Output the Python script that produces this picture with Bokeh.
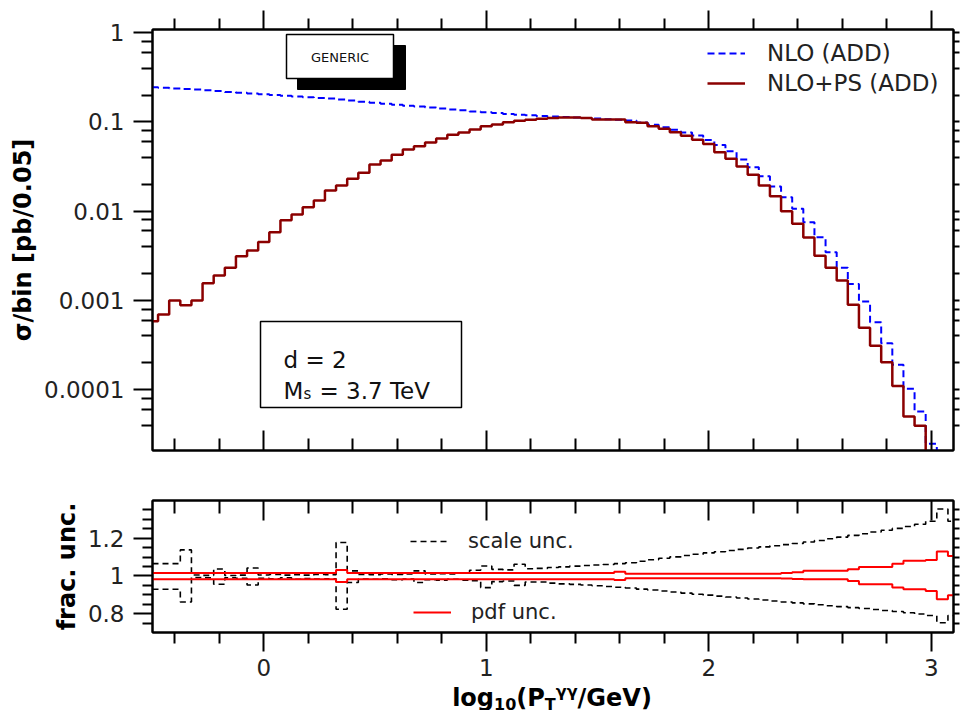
import math
from bokeh.plotting import figure
from bokeh.models import (Range1d, LinearAxis, LogAxis, FixedTicker, Legend, LegendItem,
                          BoxAnnotation, Label, ColumnDataSource, Div)
from bokeh.layouts import column
from bokeh.embed import file_html
from bokeh.resources import INLINE

FONT = "DejaVu Sans"

# ---------------- data (bin centres of log10(pT) histogram, width 0.05) ----------------
bin_center = [round(-0.5 + 0.05 * i, 2) for i in range(73)]

nlo_add = [
    0.2455, 0.2417, 0.238, 0.234, 0.231, 0.2266, 0.222, 0.2175, 0.213, 0.209,
    0.205, 0.201, 0.197, 0.1936, 0.1897, 0.1862, 0.1829, 0.1783, 0.1738, 0.169,
    0.1645, 0.1603, 0.1563, 0.1524, 0.1489, 0.1455, 0.1416, 0.1384, 0.1353, 0.1315,
    0.1285, 0.1262, 0.123, 0.1205, 0.1189, 0.1167, 0.115, 0.1135, 0.112, 0.1106,
    0.1092, 0.1075, 0.106, 0.104, 0.0987, 0.093, 0.0875, 0.0818, 0.0763, 0.0706,
    0.0629, 0.0552, 0.0471, 0.038, 0.0311, 0.0247, 0.0189, 0.01435, 0.01064, 0.00753,
    0.00511, 0.00347, 0.00232, 0.00153, 0.00097, 0.00057, 0.000331, 0.00019, 0.000102, 0.0000568,
    0.0000247, 1e-6, 1e-6,
]

nlops_add = [
    5.85e-4, 6.95e-4, 1.0e-3, 8.8e-4, 1.0e-3, 1.56e-3, 1.9e-3, 2.32e-3, 3.13e-3, 3.62e-3,
    4.5e-3, 5.8e-3, 7.9e-3, 9.2e-3, 0.0111, 0.0132, 0.0171, 0.0194, 0.0231, 0.0269,
    0.0334, 0.037, 0.0428, 0.0492, 0.0535, 0.0589, 0.0653, 0.0718, 0.0762, 0.0824,
    0.0897, 0.0937, 0.0995, 0.103, 0.106, 0.109, 0.111, 0.112, 0.112, 0.111,
    0.107, 0.107, 0.107, 0.0995, 0.098, 0.0897, 0.0839, 0.0769, 0.070, 0.0631,
    0.0566, 0.0457, 0.0387, 0.0317, 0.0256, 0.0194, 0.0147, 0.0100, 0.00722, 0.00507,
    0.00316, 0.00232, 0.00167, 0.000893, 0.000493, 0.00031, 0.000203, 0.00011, 0.0000499, 0.0000393,
    1e-6, 1e-6, 1e-6,
]

scale_hi = [
    1.065, 1.065, 1.065, 1.138, 1.005, 1.003, 1.037, 1.002, 1.004, 1.042,
    1.005, 1.008, 1.004, 1.006, 1.004, 1.008, 1.006, 1.177, 1.027, 1.008,
    1.006, 1.010, 1.008, 1.010, 1.027, 1.010, 1.012, 1.010, 1.015, 1.030,
    1.053, 1.035, 1.032, 1.062, 1.038, 1.040, 1.045, 1.048, 1.052, 1.055,
    1.058, 1.061, 1.065, 1.070, 1.078, 1.086, 1.094, 1.101, 1.108, 1.115,
    1.122, 1.128, 1.135, 1.141, 1.148, 1.154, 1.160, 1.166, 1.172, 1.180,
    1.188, 1.197, 1.206, 1.215, 1.224, 1.233, 1.242, 1.252, 1.262, 1.274,
    1.290, 1.355, 1.290,
]

scale_lo = [
    0.929, 0.929, 0.929, 0.862, 0.992, 0.990, 0.956, 0.990, 0.988, 0.952,
    0.988, 0.985, 0.990, 0.982, 0.986, 0.983, 0.985, 0.823, 0.965, 0.983,
    0.982, 0.985, 0.980, 0.983, 0.965, 0.980, 0.978, 0.982, 0.978, 0.975,
    0.938, 0.970, 0.973, 0.950, 0.968, 0.968, 0.962, 0.958, 0.955, 0.952,
    0.948, 0.944, 0.940, 0.936, 0.930, 0.925, 0.920, 0.915, 0.909, 0.903,
    0.898, 0.893, 0.888, 0.883, 0.878, 0.872, 0.867, 0.862, 0.857, 0.852,
    0.847, 0.842, 0.837, 0.832, 0.827, 0.822, 0.817, 0.811, 0.805, 0.798,
    0.790, 0.752, 0.790,
]

pdf_hi = [
    1.016, 1.016, 1.016, 1.016, 1.016, 1.016, 1.016, 1.016, 1.016, 1.016,
    1.016, 1.016, 1.016, 1.016, 1.016, 1.016, 1.016, 1.032, 1.016, 1.016,
    1.016, 1.016, 1.016, 1.016, 1.016, 1.016, 1.016, 1.016, 1.016, 1.016,
    1.016, 1.016, 1.016, 1.016, 1.016, 1.016, 1.016, 1.016, 1.016, 1.016,
    1.016, 1.016, 1.022, 1.012, 1.012, 1.012, 1.012, 1.012, 1.012, 1.012,
    1.012, 1.012, 1.012, 1.012, 1.012, 1.012, 1.012, 1.015, 1.020, 1.027,
    1.027, 1.027, 1.027, 1.035, 1.048, 1.048, 1.048, 1.065, 1.080, 1.080,
    1.085, 1.129, 1.106,
]

pdf_lo = [
    0.983, 0.983, 0.983, 0.983, 0.983, 0.983, 0.983, 0.983, 0.983, 0.983,
    0.983, 0.983, 0.983, 0.983, 0.983, 0.983, 0.983, 0.968, 0.983, 0.983,
    0.983, 0.983, 0.983, 0.983, 0.983, 0.983, 0.983, 0.983, 0.983, 0.983,
    0.983, 0.983, 0.983, 0.983, 0.983, 0.983, 0.983, 0.983, 0.983, 0.983,
    0.983, 0.983, 0.978, 0.988, 0.988, 0.988, 0.988, 0.988, 0.988, 0.988,
    0.988, 0.988, 0.988, 0.988, 0.988, 0.988, 0.988, 0.986, 0.984, 0.982,
    0.982, 0.982, 0.982, 0.973, 0.956, 0.956, 0.956, 0.938, 0.929, 0.929,
    0.920, 0.876, 0.898,
]

x_major = [0, 1, 2, 3]
x_minor = [-0.4, -0.2, 0.2, 0.4, 0.6, 0.8, 1.2, 1.4, 1.6, 1.8, 2.2, 2.4, 2.6, 2.8]
top_y_major = [1e-4, 1e-3, 1e-2, 1e-1, 1]
top_y_labels = ["0.0001", "0.001", "0.01", "0.1", "1"]
top_y_minor = [m * 10.0 ** e for e in range(-5, 1) for m in (2, 4, 6, 8)]
bot_y_major = [0.8, 1.0, 1.2]
bot_y_labels = ["0.8", "1", "1.2"]
bot_y_minor = [0.75, 0.85, 0.9, 0.95, 1.05, 1.1, 1.15, 1.25, 1.3, 1.35]

src = ColumnDataSource(dict(x=bin_center, nlo=nlo_add, nlops=nlops_add,
                            shi=scale_hi, slo=scale_lo, phi=pdf_hi, plo=pdf_lo))

# ---------------- geometry helpers (canvas pixel -> data, for annotations only) ----------------
X0, X1 = -0.5, 3.1
FL, FR = 152, 953
YT_TOP, YT_BOT = 1.089, 2.075e-5
FT, FB = 29, 450
YB_TOP, YB_BOT = 1.4, 0.7


def px_x(px):
    return X0 + (px - FL) * (X1 - X0) / (FR - FL)


def py_top(py):
    l0, l1 = math.log10(YT_TOP), math.log10(YT_BOT)
    return 10 ** (l0 - (py - FT) * (l0 - l1) / (FB - FT))


def style_axis(ax, ticker, t_in=0, t_out=0, m_in=0, m_out=0, labels=None, standoff=9):
    ax.ticker = ticker
    ax.axis_line_color = "black"
    ax.axis_line_width = 2
    ax.major_tick_line_color = "black"
    ax.major_tick_line_width = 2
    ax.minor_tick_line_color = "black"
    ax.minor_tick_line_width = 2
    ax.major_tick_in = t_in
    ax.major_tick_out = t_out
    ax.minor_tick_in = m_in
    ax.minor_tick_out = m_out
    ax.major_label_text_font = FONT
    if labels is not None:
        ax.major_label_text_font_size = "23px"
        ax.major_label_text_color = "#222222"
        ax.major_label_standoff = standoff
        ax.major_label_overrides = labels
    else:
        ax.major_label_text_font_size = "1px"
        ax.major_label_text_alpha = 0
        ax.major_label_standoff = 0


x_range = Range1d(X0, X1)

# ---------------- top panel ----------------
top = figure(width=960, height=460, x_range=x_range, y_range=Range1d(YT_BOT, YT_TOP),
             y_axis_type="log", output_backend="svg", toolbar_location=None,
             min_border_left=152, min_border_right=7, min_border_top=29, min_border_bottom=10,
             background_fill_color="white", border_fill_color="white")
top.xgrid.visible = False
top.ygrid.visible = False
top.outline_line_color = "black"
top.outline_line_width = 2

r_nlo = top.step(x="x", y="nlo", source=src, mode="center", line_color="#0000ff",
                 line_width=2, line_dash="7 4")
r_ps = top.step(x="x", y="nlops", source=src, mode="center", line_color="#8b0000",
                line_width=2.5)

style_axis(top.xaxis[0], FixedTicker(ticks=x_major, minor_ticks=x_minor), t_in=20, m_in=12)
ax_above = LinearAxis()
style_axis(ax_above, FixedTicker(ticks=x_major, minor_ticks=x_minor), t_out=19, m_out=11)
top.add_layout(ax_above, "above")

style_axis(top.yaxis[0], FixedTicker(ticks=top_y_major, minor_ticks=top_y_minor),
           t_out=19, m_out=11, labels=dict(zip(top_y_major, top_y_labels)))
top.yaxis[0].axis_label = "σ/bin [pb/0.05]"
top.yaxis[0].axis_label_text_font = FONT
top.yaxis[0].axis_label_text_font_size = "24px"
top.yaxis[0].axis_label_text_font_style = "bold"
top.yaxis[0].axis_label_text_color = "black"
top.yaxis[0].axis_label_standoff = 4
ax_right = LogAxis()
style_axis(ax_right, FixedTicker(ticks=top_y_major, minor_ticks=top_y_minor), t_out=6, m_out=6)
top.add_layout(ax_right, "right")

leg_top = Legend(items=[LegendItem(label="NLO (ADD)", renderers=[r_nlo]),
                        LegendItem(label="NLO+PS (ADD)", renderers=[r_ps])],
                 location=(555, 352), border_line_color=None, background_fill_alpha=0,
                 padding=0, margin=0, spacing=0, glyph_width=38, glyph_height=30,
                 label_height=30, label_standoff=22, label_text_font=FONT,
                 label_text_font_size="23px", label_text_color="#222222")
top.add_layout(leg_top)

# GENERIC tag with shadow
top.add_layout(BoxAnnotation(left=px_x(297), right=px_x(405), top=py_top(45), bottom=py_top(89),
                             fill_color="black", fill_alpha=1, line_color="black",
                             line_alpha=1, line_width=1))
top.add_layout(BoxAnnotation(left=px_x(286), right=px_x(393), top=py_top(34), bottom=py_top(78),
                             fill_color="white", fill_alpha=1, line_color="black",
                             line_alpha=1, line_width=1.5))
top.add_layout(Label(x=px_x(339.5), y=py_top(56.5), text="GENERIC", text_font=FONT,
                     text_font_size="13px", text_align="center", text_baseline="middle",
                     text_color="#111111"))

# parameter box
top.add_layout(BoxAnnotation(left=px_x(260), right=px_x(461), top=py_top(321), bottom=py_top(407),
                             fill_color="white", fill_alpha=1, line_color="black",
                             line_alpha=1, line_width=1.5))
top.add_layout(Label(x=px_x(283), y=py_top(359), text="d = 2", text_font=FONT,
                     text_font_size="23px", text_baseline="alphabetic", text_color="#111111"))
top.add_layout(Label(x=px_x(283), y=py_top(390), text="M", text_font=FONT,
                     text_font_size="23px", text_baseline="alphabetic", text_color="#111111"))
top.add_layout(Label(x=px_x(303), y=py_top(393), text="s", text_font=FONT,
                     text_font_size="15px", text_baseline="alphabetic", text_color="#111111"))
top.add_layout(Label(x=px_x(319), y=py_top(390), text="= 3.7 TeV", text_font=FONT,
                     text_font_size="23px", text_baseline="alphabetic", text_color="#111111"))

# ---------------- bottom panel ----------------
bot = figure(width=960, height=225, x_range=x_range, y_range=Range1d(YB_BOT, YB_TOP),
             output_backend="svg", toolbar_location=None,
             min_border_left=152, min_border_right=7, min_border_top=40, min_border_bottom=53,
             background_fill_color="white", border_fill_color="white")
bot.xgrid.visible = False
bot.ygrid.visible = False
bot.outline_line_color = "black"
bot.outline_line_width = 2

r_su = bot.step(x="x", y="shi", source=src, mode="center", line_color="black",
                line_width=1.6, line_dash="6 4")
bot.step(x="x", y="slo", source=src, mode="center", line_color="black",
         line_width=1.6, line_dash="6 4")
r_pu = bot.step(x="x", y="phi", source=src, mode="center", line_color="#ff0000", line_width=2)
bot.step(x="x", y="plo", source=src, mode="center", line_color="#ff0000", line_width=2)

style_axis(bot.xaxis[0], FixedTicker(ticks=x_major, minor_ticks=x_minor), t_out=19, m_out=11,
           labels={0: "0", 1: "1", 2: "2", 3: "3"}, standoff=7)
ax_above2 = LinearAxis()
style_axis(ax_above2, FixedTicker(ticks=x_major, minor_ticks=x_minor), t_in=20, m_in=13)
bot.add_layout(ax_above2, "above")

style_axis(bot.yaxis[0], FixedTicker(ticks=bot_y_major, minor_ticks=bot_y_minor),
           t_out=19, m_out=10, labels=dict(zip(bot_y_major, bot_y_labels)))
bot.yaxis[0].axis_label = "frac. unc."
bot.yaxis[0].axis_label_text_font = FONT
bot.yaxis[0].axis_label_text_font_size = "24px"
bot.yaxis[0].axis_label_text_font_style = "bold"
bot.yaxis[0].axis_label_text_color = "black"
bot.yaxis[0].axis_label_standoff = 4
ax_right2 = LinearAxis()
style_axis(ax_right2, FixedTicker(ticks=bot_y_major, minor_ticks=bot_y_minor), t_out=6, m_out=6)
bot.add_layout(ax_right2, "right")

for items, loc in (([LegendItem(label="scale unc.", renderers=[r_su])], (258, 76)),
                   ([LegendItem(label="pdf unc.", renderers=[r_pu])], (261, 5))):
    bot.add_layout(Legend(items=items, location=loc, border_line_color=None,
                          background_fill_alpha=0, padding=0, margin=0, spacing=0,
                          glyph_width=38, glyph_height=30, label_height=30, label_standoff=20,
                          label_text_font=FONT, label_text_font_size="21px",
                          label_text_color="#222222"))

# x-axis title  log10(P_T^γγ/GeV) as real text with sub/superscripts, centred on the frame
sub = '<span style="font-size:16px;position:relative;top:4px">{}</span>'
sup = '<span style="font-size:16px;position:relative;top:-9px">{}</span>'
xtitle = Div(text="log" + sub.format("10") + "(P" + sub.format("T") + sup.format("γγ") + "/GeV)",
             width=816, height=25, margin=(0, 0, 0, 144),
             styles={"font-family": FONT, "font-weight": "bold", "font-size": "24px",
                     "line-height": "27px", "text-align": "center", "white-space": "nowrap",
                     "color": "black"})

layout = column(top, bot, xtitle, spacing=0)
open("out.html", "w").write(file_html(layout, INLINE))
